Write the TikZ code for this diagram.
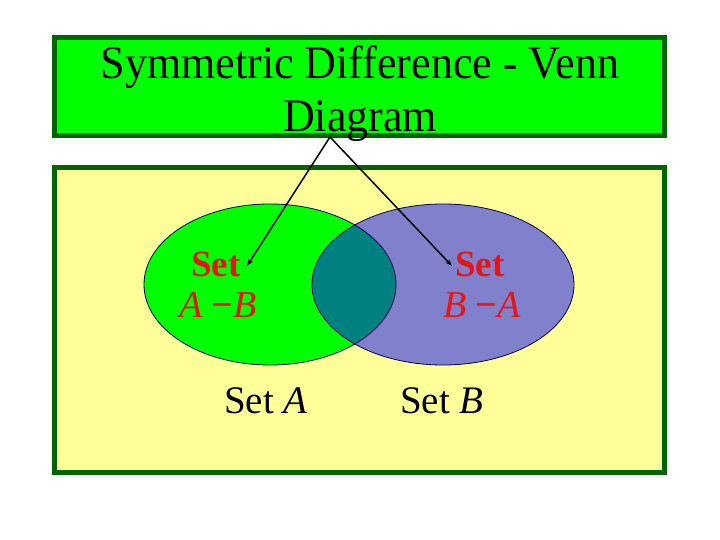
\documentclass[tikz,border=0pt]{standalone}
\usepackage{fontspec}
\setmainfont{Liberation Serif}
\usetikzlibrary{arrows.meta}
\definecolor{dkgreen}{RGB}{0,100,0}
\definecolor{brgreen}{RGB}{0,255,0}
\definecolor{paleyellow}{RGB}{255,255,153}
\definecolor{setblue}{RGB}{128,128,204}
\definecolor{setteal}{RGB}{0,128,128}
\definecolor{setred}{RGB}{230,20,20}
\tikzset{
  panel/.style={draw=dkgreen, line width=5pt},
  setout/.style={draw=black!70!blue, line width=0.8pt},
  diflabel/.style={text=setred, font=\fontsize{37}{44}\selectfont\bfseries, align=center, inner sep=0pt},
  difexpr/.style={text=setred, font=\fontsize{38}{44}\selectfont, align=center, inner sep=0pt},
  setlabel/.style={font=\fontsize{39}{46}\selectfont, inner sep=0pt},
  pointer/.style={line width=1.5pt, -{Stealth[length=7pt,width=5pt]}}
}
\begin{document}
\begin{tikzpicture}[x=1pt,y=-1pt]
\useasboundingbox (0,0) rectangle (720,540);
\fill[white] (0,0) rectangle (720,540);
% title panel
\draw[panel, fill=brgreen] (54.5,37.5) rectangle (664.5,135.5);
\node[font=\fontsize{44}{50}\selectfont, align=center, inner sep=0pt, yscale=1.06, transform shape] (title) at (360,94)
  {Symmetric Difference - Venn\\Diagram};
% universe panel
\draw[panel, fill=paleyellow] (54.5,167.5) rectangle (664.5,472.5);
% sets
\fill[brgreen] (270,284.5) ellipse [x radius=126, y radius=80.5];
\fill[setblue] (443,284.5) ellipse [x radius=131, y radius=80.5];
\begin{scope}
  \clip (270,284.5) ellipse [x radius=126, y radius=80.5];
  \fill[setteal] (443,284.5) ellipse [x radius=131, y radius=80.5];
\end{scope}
\draw[setout] (270,284.5) ellipse [x radius=126, y radius=80.5];
\draw[setout] (443,284.5) ellipse [x radius=131, y radius=80.5];
% labels
\node[diflabel] (amb) at (216,264) {Set};
\node[difexpr] (ambx) at (218,305) {\textit{A} \textbf{−}\textit{B}};
\node[diflabel] (bma) at (480,264) {Set};
\node[difexpr] (bmax) at (482,305) {\textit{B} \textbf{−}\textit{A}};
\node[setlabel] (seta) at (266,401) {Set \textit{A}};
\node[setlabel] (setb) at (442,401) {Set \textit{B}};
% pointers
\coordinate (apex) at (330,137);
\coordinate (pa) at (247,266);
\coordinate (pb) at (452,266);
\draw[pointer] (apex) -- (pa);
\draw[pointer] (apex) -- (pb);
\end{tikzpicture}
\end{document}
